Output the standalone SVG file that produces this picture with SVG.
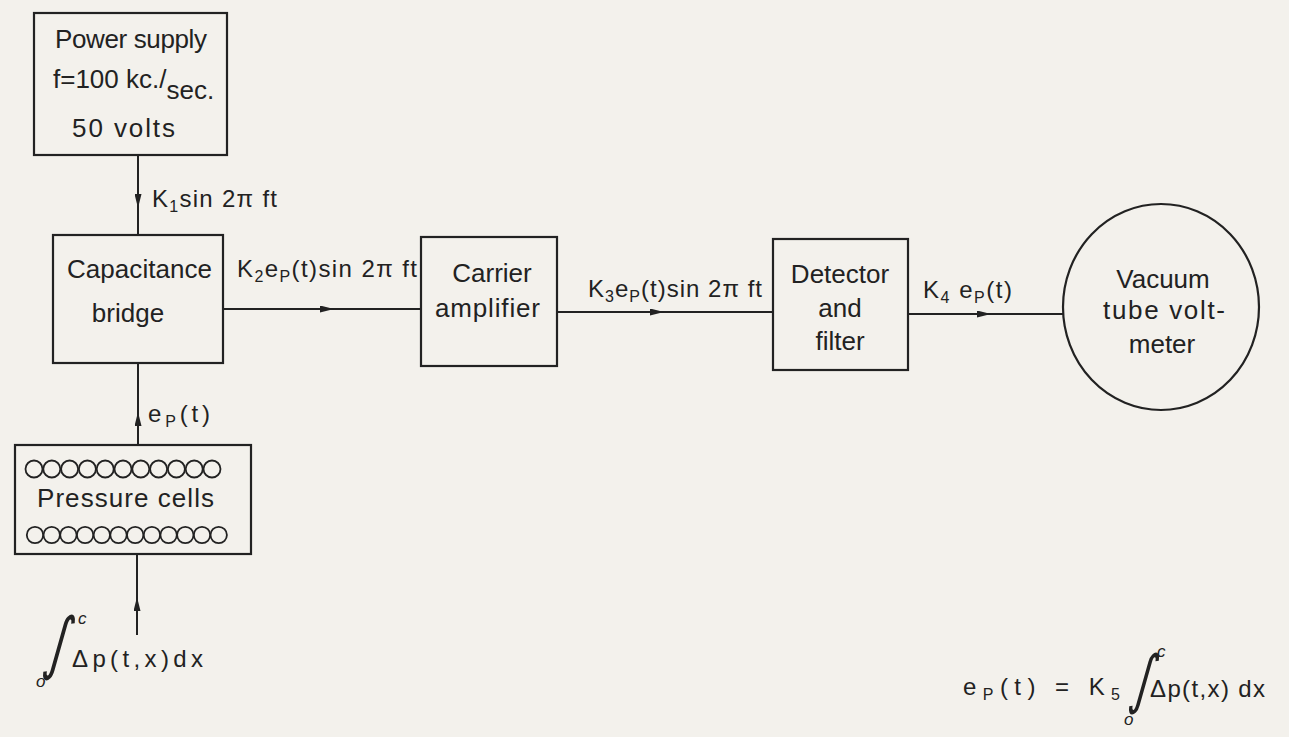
<svg xmlns="http://www.w3.org/2000/svg" width="1289" height="737" viewBox="0 0 1289 737">
<defs>
<style>
.box{fill:none;stroke:#222;stroke-width:2.2}
.ln{fill:none;stroke:#222;stroke-width:2}
.t{font-family:"Liberation Sans",Arial,sans-serif;font-size:26px;fill:#222}
.lb{font-family:"Liberation Sans",Arial,sans-serif;font-size:24px;fill:#222}
.int{font-family:"DejaVu Sans",sans-serif;fill:#222}
.lim{font-family:"Liberation Sans",Arial,sans-serif;font-style:italic;font-size:17px;fill:#222}
.cell{fill:none;stroke:#222;stroke-width:1.8}
</style>
<marker id="ah" viewBox="0 0 14 7" refX="14" refY="3.5" markerWidth="14" markerHeight="7" markerUnits="userSpaceOnUse" orient="auto">
<path d="M0,0 L14,3.5 L0,7 z" fill="#222"/>
</marker>
</defs>
<rect width="1289" height="737" fill="#f3f1ec"/>

<g id="connectors">
<path class="ln" d="M138,155 L138,208 L138,235" marker-mid="url(#ah)"/>
<path class="ln" d="M223,309 L334,309 L421,309" marker-mid="url(#ah)"/>
<path class="ln" d="M557,312 L664,312 L773,312" marker-mid="url(#ah)"/>
<path class="ln" d="M908,314 L991,314 L1063,314" marker-mid="url(#ah)"/>
<path class="ln" d="M138,445 L138,412 L138,363" marker-mid="url(#ah)"/>
<path class="ln" d="M137,635 L137,597 L137,555" marker-mid="url(#ah)"/>
<text class="lb" x="152" y="207" textLength="125" lengthAdjust="spacing">K<tspan font-size="16" dy="5">1</tspan><tspan dy="-5">sin 2π ft</tspan></text>
<text class="lb" x="237" y="277" textLength="180" lengthAdjust="spacing">K<tspan font-size="16" dy="5">2</tspan><tspan dy="-5">e</tspan><tspan font-size="16" dy="5">P</tspan><tspan dy="-5">(t)sin 2π ft</tspan></text>
<text class="lb" x="588" y="297" textLength="174" lengthAdjust="spacing">K<tspan font-size="16" dy="5">3</tspan><tspan dy="-5">e</tspan><tspan font-size="16" dy="5">P</tspan><tspan dy="-5">(t)sin 2π ft</tspan></text>
<text class="lb" x="923" y="298" textLength="89" lengthAdjust="spacing">K<tspan font-size="16" dy="5">4</tspan><tspan dy="-5"> e</tspan><tspan font-size="16" dy="5">P</tspan><tspan dy="-5">(t)</tspan></text>
<text class="lb" x="148" y="422" textLength="62" lengthAdjust="spacing">e<tspan font-size="16" dy="5">P</tspan><tspan dy="-5">(t)</tspan></text>
</g>

<g id="power-supply">
<rect class="box" x="34" y="13" width="193" height="142"/>
<text class="t" x="55" y="48" textLength="152" lengthAdjust="spacing">Power supply</text>
<text class="t" x="53" y="88">f=100  kc.<tspan>/</tspan><tspan dy="11">sec.</tspan></text>
<text class="t" x="72" y="137" textLength="103" lengthAdjust="spacing">50 volts</text>
</g>

<g id="capacitance-bridge">
<rect class="box" x="53" y="235" width="170" height="128"/>
<text class="t" x="67" y="278" textLength="145" lengthAdjust="spacing">Capacitance</text>
<text class="t" x="128" y="322" text-anchor="middle">bridge</text>
</g>

<g id="carrier-amplifier">
<rect class="box" x="421" y="237" width="136" height="129"/>
<text class="t" x="492" y="282" text-anchor="middle">Carrier</text>
<text class="t" x="435" y="317" textLength="105" lengthAdjust="spacing">amplifier</text>
</g>

<g id="detector-filter">
<rect class="box" x="773" y="239" width="135" height="131"/>
<text class="t" x="840" y="283" text-anchor="middle">Detector</text>
<text class="t" x="840" y="317" text-anchor="middle">and</text>
<text class="t" x="840" y="350" text-anchor="middle">filter</text>
</g>

<g id="vtvm">
<ellipse class="box" cx="1161" cy="307" rx="98" ry="103"/>
<text class="t" x="1163" y="288" text-anchor="middle">Vacuum</text>
<text class="t" x="1103" y="319" textLength="122" lengthAdjust="spacing">tube volt-</text>
<text class="t" x="1162" y="353" text-anchor="middle">meter</text>
</g>

<g id="pressure-cells">
<rect class="box" x="15" y="445" width="236" height="109"/>
<g class="cell">
<circle cx="34" cy="469" r="8.5"/><circle cx="51.8" cy="469" r="8.5"/><circle cx="69.6" cy="469" r="8.5"/><circle cx="87.4" cy="469" r="8.5"/><circle cx="105.2" cy="469" r="8.5"/><circle cx="123" cy="469" r="8.5"/><circle cx="140.8" cy="469" r="8.5"/><circle cx="158.6" cy="469" r="8.5"/><circle cx="176.4" cy="469" r="8.5"/><circle cx="194.2" cy="469" r="8.5"/><circle cx="212" cy="469" r="8.5"/>
<circle cx="35" cy="535" r="8.2"/><circle cx="51.7" cy="535" r="8.2"/><circle cx="68.4" cy="535" r="8.2"/><circle cx="85.1" cy="535" r="8.2"/><circle cx="101.8" cy="535" r="8.2"/><circle cx="118.5" cy="535" r="8.2"/><circle cx="135.2" cy="535" r="8.2"/><circle cx="151.9" cy="535" r="8.2"/><circle cx="168.6" cy="535" r="8.2"/><circle cx="185.3" cy="535" r="8.2"/><circle cx="202" cy="535" r="8.2"/><circle cx="218.7" cy="535" r="8.2"/>
</g>
<text class="t" x="37" y="507" textLength="177" lengthAdjust="spacing">Pressure  cells</text>
</g>

<g id="input-integral">
<text class="int" transform="translate(42,666) skewX(-14) scale(0.7,1)" font-size="68">∫</text>
<text class="lim" x="78" y="624">c</text>
<text class="lim" x="36" y="687">o</text>
<text class="lb" x="72" y="667" textLength="131" lengthAdjust="spacing">Δp(t,x)dx</text>
</g>

<g id="formula">
<text class="lb" x="963" y="695" textLength="157" lengthAdjust="spacing">e<tspan font-size="16" dy="5">P</tspan><tspan dy="-5">(t) = K</tspan><tspan font-size="16" dy="5">5</tspan></text>
<text class="int" transform="translate(1128,701) skewX(-14) scale(0.7,1)" font-size="64">∫</text>
<text class="lim" x="1157" y="657">c</text>
<text class="lim" x="1124" y="725">o</text>
<text class="lb" x="1150" y="697" textLength="115" lengthAdjust="spacing">Δp(t,x) dx</text>
</g>
</svg>
